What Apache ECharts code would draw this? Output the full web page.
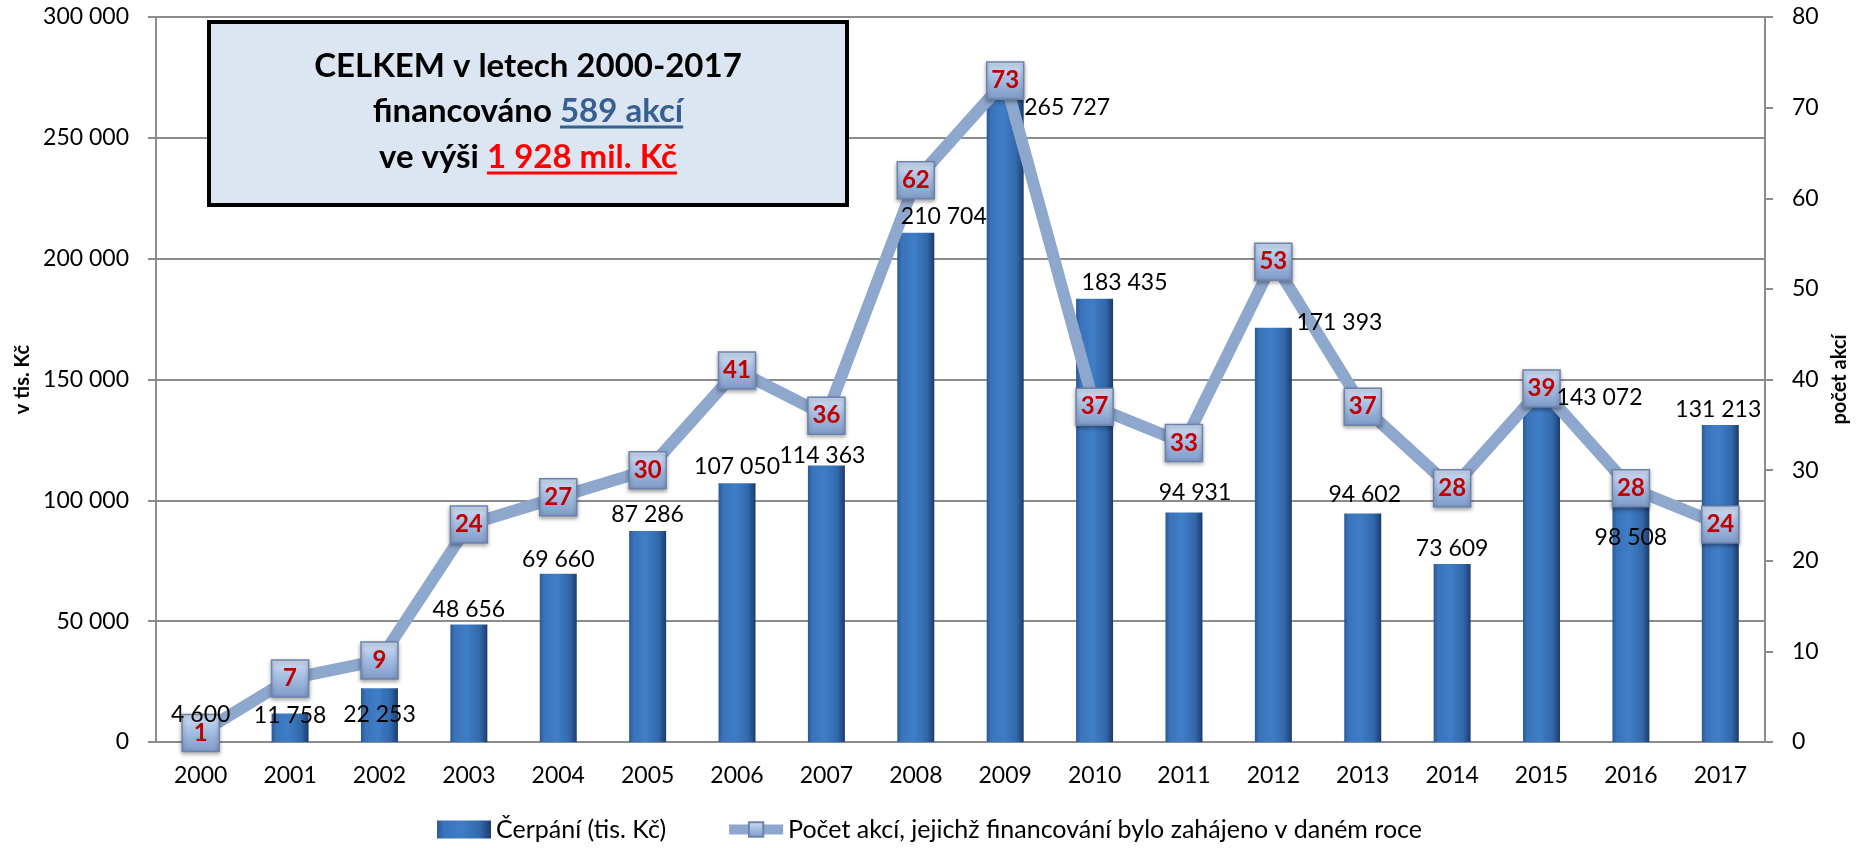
<!DOCTYPE html>
<html>
<head>
<meta charset="utf-8">
<script src="https://cdn.jsdelivr.net/npm/echarts@6/dist/echarts.min.js"></script>
<style>
  html, body { margin: 0; padding: 0; background: #fff; }
  #chart { width: 1859px; height: 848px; }
</style>
</head>
<body>
<div id="chart"></div>
<script>
const years = ['2000', '2001', '2002', '2003', '2004', '2005', '2006', '2007', '2008',
  '2009', '2010', '2011', '2012', '2013', '2014', '2015', '2016', '2017']
const cerpani = [4600, 11758, 22253, 48656, 69660, 87286, 107050, 114363, 210704,
  265727, 183435, 94931, 171393, 94602, 73609, 143072, 98508, 131213]
const pocetAkci = [1, 7, 9, 24, 27, 30, 41, 36, 62, 73, 37, 33, 53, 37, 28, 39, 28, 24]

// labels in the original were dragged by hand, so nudge them the same way
const labelShift = [[0, 0], [0, 18], [0, 43], [0, 2], [0, 2], [0, 0], [0, 0], [-4, 6], [28, 0],
  [62, 24], [30, 0], [11, -4], [66, 11], [2, -2], [0, 1], [58, 18], [0, 50], [-2, 1]]

const fmt = v => String(v).replace(/\B(?=(\d{3})+(?!\d))/g, ' ')

const FONT = 'Lato, "Open Sans", sans-serif'
const chart = echarts.init(document.getElementById('chart'))

// title box text + underlines
const TITLE_FONT = 'bold 33px Lato'
const ctx = document.createElement('canvas').getContext('2d')
ctx.font = TITLE_FONT
const boxX = 209, boxY = 22, boxW = 638, boxH = 183
const cx = boxX + boxW / 2
const lines = [
  { pre: 'CELKEM v letech 2000-2017', hi: '', color: '#000', y: 66 },
  { pre: 'financováno ', hi: '589 akcí', color: '#376092', y: 111 },
  { pre: 've výši ', hi: '1 928 mil. Kč', color: '#ff0000', y: 157 }
]
const graphic = [{
  type: 'rect',
  shape: { x: boxX, y: boxY, width: boxW, height: boxH },
  style: { fill: '#dce6f2', stroke: '#000', lineWidth: 4 },
  z: 100
}]
lines.forEach(l => {
  const wPre = ctx.measureText(l.pre).width
  const wHi = ctx.measureText(l.hi).width
  const x0 = cx - (wPre + wHi) / 2
  graphic.push({
    type: 'text', z: 101,
    style: {
      x: x0, y: l.y, text: l.pre, fill: '#000',
      font: TITLE_FONT, textAlign: 'left', textVerticalAlign: 'middle'
    }
  })
  if (l.hi) {
    graphic.push({
      type: 'text', z: 101,
      style: {
        x: x0 + wPre, y: l.y, text: l.hi, fill: l.color,
        font: TITLE_FONT, textAlign: 'left', textVerticalAlign: 'middle'
      }
    })
    graphic.push({
      type: 'line', z: 101,
      shape: { x1: x0 + wPre, y1: l.y + 16, x2: x0 + wPre + wHi, y2: l.y + 16 },
      style: { stroke: l.color, lineWidth: 3 }
    })
  }
})

const barColor = new echarts.graphic.LinearGradient(0, 0, 1, 0, [
  { offset: 0, color: '#2a5896' },
  { offset: 0.12, color: '#3a73ba' },
  { offset: 0.45, color: '#3f7ec7' },
  { offset: 0.8, color: '#3268ab' },
  { offset: 1, color: '#1b3c6e' }
])
const markerColor = new echarts.graphic.LinearGradient(0, 0, 0, 1, [
  { offset: 0, color: '#d2e1f5' },
  { offset: 0.45, color: '#a7bfe3' },
  { offset: 1, color: '#7d99c6' }
])

const gridColor = '#8c8c8c'
const barName = 'Čerpání (tis. Kč)'
const lineName = 'Počet akcí, jejichž financování bylo zahájeno v daném roce'

chart.setOption({
  animation: false,
  textStyle: { fontFamily: FONT },
  grid: { left: 156, right: 94, top: 17, bottom: 106 },
  legend: {
    bottom: 1,
    left: 'center',
    itemGap: 58,
    itemWidth: 54,
    itemHeight: 18,
    textStyle: { fontFamily: FONT, fontSize: 25, color: '#000' },
    data: [
      { name: barName, icon: 'rect' },
      { name: lineName, lineStyle: { width: 10 } }
    ]
  },
  xAxis: {
    type: 'category',
    data: years,
    axisLine: { lineStyle: { color: gridColor, width: 2 } },
    axisTick: { length: 8, lineStyle: { color: gridColor, width: 2 } },
    axisLabel: { color: '#000', fontSize: 23, fontFamily: FONT, margin: 22 }
  },
  yAxis: [
    {
      type: 'value',
      min: 0, max: 300000, interval: 50000,
      name: 'v tis. Kč',
      nameLocation: 'middle',
      nameGap: 121,
      nameTextStyle: { fontFamily: FONT, fontWeight: 'bold', fontSize: 20, color: '#000' },
      axisLine: { show: true, lineStyle: { color: gridColor, width: 2 } },
      axisTick: { show: true, length: 8, lineStyle: { color: gridColor, width: 2 } },
      axisLabel: { color: '#000', fontSize: 23, fontFamily: FONT, margin: 27, formatter: fmt },
      splitLine: { lineStyle: { color: gridColor, width: 2 } }
    },
    {
      type: 'value',
      min: 0, max: 80, interval: 10,
      name: 'počet akcí',
      nameLocation: 'middle',
      nameGap: 54,
      nameTextStyle: { fontFamily: FONT, fontWeight: 'bold', fontSize: 20, color: '#000' },
      axisLine: { show: true, lineStyle: { color: gridColor, width: 2 } },
      axisTick: { show: true, length: 8, lineStyle: { color: gridColor, width: 2 } },
      axisLabel: { color: '#000', fontSize: 23, fontFamily: FONT, margin: 27 },
      splitLine: { show: false }
    }
  ],
  series: [
    {
      name: barName,
      type: 'bar',
      barWidth: 37,
      itemStyle: { color: barColor },
      data: cerpani
    },
    {
      name: lineName,
      type: 'line',
      yAxisIndex: 1,
      symbol: 'rect',
      symbolSize: 37,
      lineStyle: { color: '#8ea7cd', width: 12 },
      itemStyle: {
        color: markerColor, borderColor: '#6c84ab', borderWidth: 1.5,
        shadowBlur: 4, shadowColor: 'rgba(0,0,0,0.35)', shadowOffsetY: 2
      },
      label: {
        show: true, position: 'inside',
        color: '#c00000', fontWeight: 'bold', fontSize: 24, fontFamily: FONT
      },
      data: pocetAkci
    },
    {
      // invisible copy of the bars so their value labels sit above the line
      name: 'labels',
      type: 'bar',
      barWidth: 37,
      barGap: '-100%',
      z: 5,
      silent: true,
      itemStyle: { color: 'rgba(0,0,0,0)' },
      label: {
        show: true, position: 'top', distance: 5,
        color: '#000', fontSize: 23, fontFamily: FONT,
        formatter: p => fmt(p.value)
      },
      data: cerpani.map((v, i) => ({ value: v, label: { offset: labelShift[i] } }))
    }
  ],
  graphic
})
</script>
</body>
</html>
